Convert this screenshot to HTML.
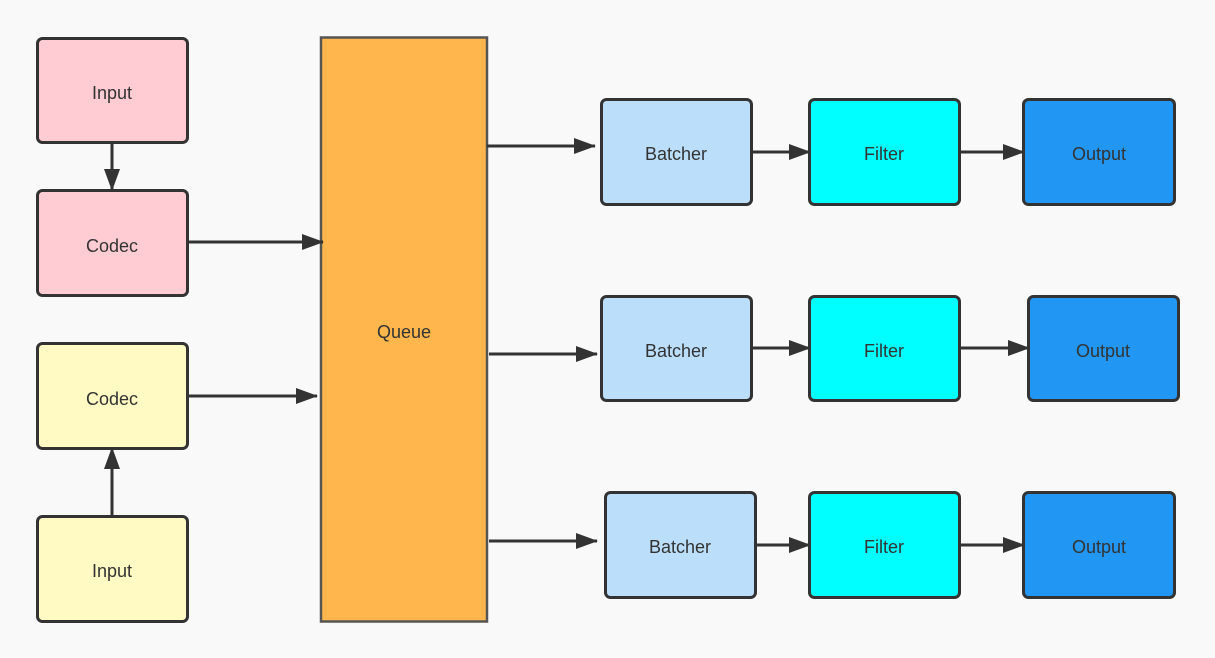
<!DOCTYPE html>
<html><head><meta charset="utf-8"><style>
html,body{margin:0;padding:0;background:#f9f9f9;}
svg{display:block;}
text{font-family:"Liberation Sans",sans-serif;font-size:18px;fill:#333;text-anchor:middle;dominant-baseline:central;}
</style></head><body>
<svg width="1215" height="658" viewBox="0 0 1215 658" xmlns="http://www.w3.org/2000/svg">
<defs>
<marker id="a" viewBox="0 0 22 16" refX="21" refY="8" markerWidth="22" markerHeight="16" markerUnits="userSpaceOnUse" orient="auto">
<path d="M0,0 L22,8 L0,16 Z" fill="#333"/>
</marker>
</defs>
<rect width="1215" height="658" fill="#f9f9f9"/>
<g stroke="#333" stroke-width="3">
<rect x="37.5" y="38.5" width="150" height="104" rx="5" fill="#ffccd3"/>
<rect x="37.5" y="190.5" width="150" height="105" rx="5" fill="#ffccd3"/>
<rect x="37.5" y="343.5" width="150" height="105" rx="5" fill="#fff9c4"/>
<rect x="37.5" y="516.5" width="150" height="105" rx="5" fill="#fff9c4"/>
<rect x="321" y="37.5" width="166" height="584" fill="#ffb74d" stroke="#555" stroke-width="2.5"/>
<rect x="601.5" y="99.5" width="150" height="105" rx="5" fill="#bbdefb"/>
<rect x="809.5" y="99.5" width="150" height="105" rx="5" fill="#00ffff"/>
<rect x="1023.5" y="99.5" width="151" height="105" rx="5" fill="#2196f3"/>
<rect x="601.5" y="296.5" width="150" height="104" rx="5" fill="#bbdefb"/>
<rect x="809.5" y="296.5" width="150" height="104" rx="5" fill="#00ffff"/>
<rect x="1028.5" y="296.5" width="150" height="104" rx="5" fill="#2196f3"/>
<rect x="605.5" y="492.5" width="150" height="105" rx="5" fill="#bbdefb"/>
<rect x="809.5" y="492.5" width="150" height="105" rx="5" fill="#00ffff"/>
<rect x="1023.5" y="492.5" width="151" height="105" rx="5" fill="#2196f3"/>
</g>
<g stroke="#333" stroke-width="3" fill="none" marker-end="url(#a)">
<line x1="112" y1="143" x2="112" y2="190"/>
<line x1="112" y1="516" x2="112" y2="448"/>
<line x1="188" y1="242" x2="323" y2="242"/>
<line x1="188" y1="396" x2="317" y2="396"/>
<line x1="487" y1="146" x2="595" y2="146"/>
<line x1="752" y1="152" x2="810" y2="152"/>
<line x1="960" y1="152" x2="1024" y2="152"/>
<line x1="489" y1="354" x2="597" y2="354"/>
<line x1="752" y1="348" x2="810" y2="348"/>
<line x1="960" y1="348" x2="1029" y2="348"/>
<line x1="489" y1="541" x2="597" y2="541"/>
<line x1="756" y1="545" x2="810" y2="545"/>
<line x1="960" y1="545" x2="1024" y2="545"/>
</g>
<text x="112" y="93">Input</text>
<text x="112" y="246">Codec</text>
<text x="112" y="399">Codec</text>
<text x="112" y="571">Input</text>
<text x="404" y="332">Queue</text>
<text x="676" y="154">Batcher</text>
<text x="884" y="154">Filter</text>
<text x="1099" y="154">Output</text>
<text x="676" y="351">Batcher</text>
<text x="884" y="351">Filter</text>
<text x="1103" y="351">Output</text>
<text x="680" y="547">Batcher</text>
<text x="884" y="547">Filter</text>
<text x="1099" y="547">Output</text>
</svg>
</body></html>
